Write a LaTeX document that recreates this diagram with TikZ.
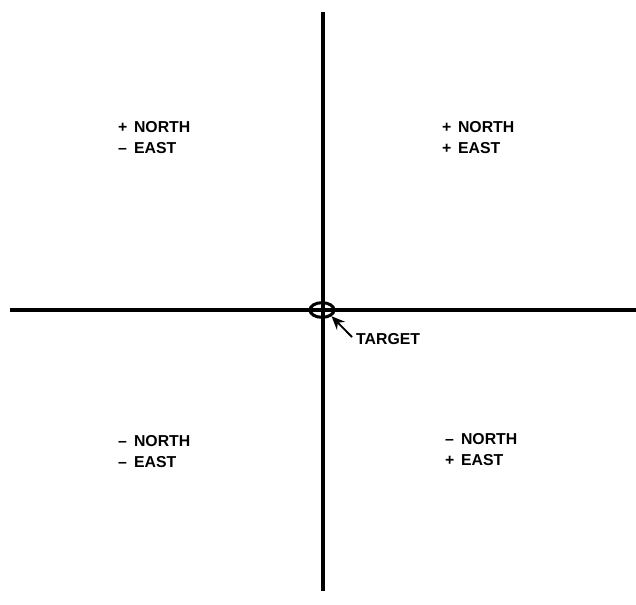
\documentclass[tikz,border=0pt]{standalone}
\usepackage{fontspec}
\setmainfont{Liberation Sans}
\usepackage{tikz}
\usetikzlibrary{shapes.geometric, arrows.meta, positioning, calc}
\newcommand{\sgnbox}[1]{\makebox[1.0em][l]{#1}}

\begin{document}
\begin{tikzpicture}[
    x=0.03cm, y=-0.03cm,
    axis/.style={line width=2.8pt, color=black},
    quad/.style={align=left, font=\fontsize{13.5}{18.5}\selectfont\bfseries, inner sep=0pt, anchor=north west},
    pointer/.style={-{Stealth[length=4mm, width=3.4mm]}, line width=1.6pt}
]
    \useasboundingbox (0,0) rectangle (636,604);

    % axes
    \coordinate (west) at (10,310);
    \coordinate (east) at (636,310);
    \coordinate (north) at (323,12);
    \coordinate (south) at (323,591);
    \draw[axis] (west) -- (east);
    \draw[axis] (north) -- (south);

    % target
    \node[ellipse, draw, line width=2.6pt, minimum width=0.72cm, minimum height=0.44cm, inner sep=0pt] (target) at (322,310) {};
    \node[font=\fontsize{13.5}{18}\selectfont\bfseries, anchor=west, inner sep=0pt] (tlabel) at (356,339) {TARGET};
    \draw[pointer] (tlabel.west) ++(-4,-2) coordinate (tstart) -- (target.south east);

    % quadrants
    \node[quad] (nw) at (118,121) {\sgnbox{+}NORTH\\\sgnbox{--}EAST};
    \node[quad] (ne) at (442,121) {\sgnbox{+}NORTH\\\sgnbox{+}EAST};
    \node[quad] (sw) at (118,435) {\sgnbox{--}NORTH\\\sgnbox{--}EAST};
    \node[quad] (se) at (445,433) {\sgnbox{--}NORTH\\\sgnbox{+}EAST};

\end{tikzpicture}
\end{document}
